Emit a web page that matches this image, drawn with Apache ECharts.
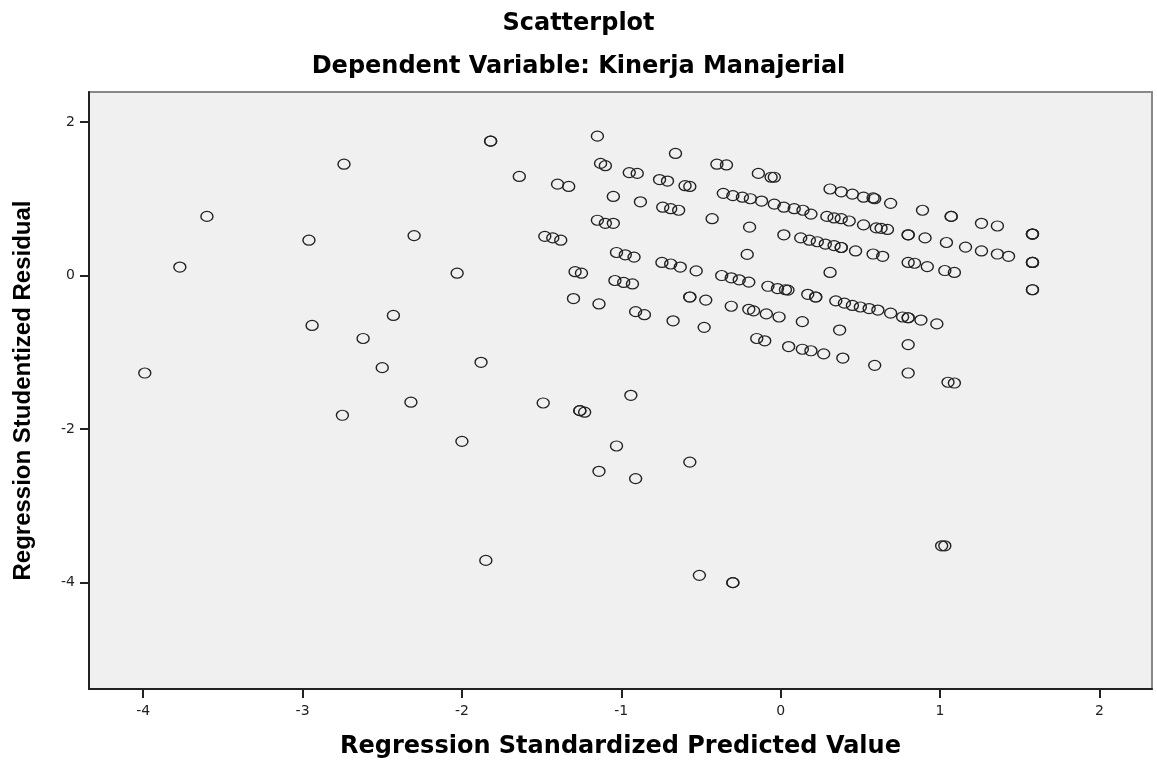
<!DOCTYPE html>
<html>
<head>
<meta charset="utf-8">
<title>Scatterplot</title>
<script src="https://cdn.jsdelivr.net/npm/echarts@6/dist/echarts.min.js"></script>
<style>
  html, body { margin: 0; padding: 0; background: #fff; }
  #chart { width: 1157px; height: 763px; }
</style>
</head>
<body>
<div id="chart"></div>
<script>
// Regression Standardized Predicted Value (x) and Regression Studentized Residual (y)
const predicted = [
  -2.74, -3.60, -2.96, -2.30, -3.77, -2.43, -2.94, -2.62, -2.50, -3.99, -2.75, -2.32,
  -1.82, -1.82, -1.15, -0.66, -1.13, -1.10, -0.95, -0.90, -0.76, -0.71, -0.60, -0.57,
  -0.40, -0.34, -0.14, -0.06, -0.04, -1.64, -1.40, -1.33, -1.05, -0.88, -0.74, -0.69, -0.64,
  -0.36, -0.30, -0.24, -0.19, -0.12, -0.04, 0.02,
  -0.43, -0.195, 0.02,
  -1.15, -1.10, -1.05, -1.48, -1.43, -1.38, -0.21,
  -1.03, -0.975, -0.92, -0.745, -0.69, -0.63, -0.53,
  -0.37, -0.31, -0.26, -0.20, -0.08, -0.02, 0.03,
  -2.03, -1.29, -1.25, -1.04, -0.985, -0.93, -1.30, -1.14,
  -0.57, -0.57, -0.47, -0.31, -0.20, -0.17, -0.09, -0.01, -0.91, -0.855, -0.675, -0.48,
  -0.15, -0.10, 0.05, -1.88,
  -1.49, -1.26, -1.26, -1.23, -0.94, -2.00, -1.03, -0.57, -1.14, -0.91, -1.85, -0.51, -0.30, -0.30,
  1.01, 1.03,
  0.31, 0.38, 0.45, 0.52, 0.58, 0.59, 0.69, 0.89, 1.07, 1.07, 1.26, 1.36,
  1.58, 1.58, 1.58, 1.58, 1.58, 1.58, 1.58, 1.58,
  0.085, 0.14, 0.19, 0.29, 0.335, 0.38, 0.43, 0.52, 0.60, 0.63, 0.67,
  0.80, 0.80, 0.906, 1.04, 1.16, 1.26, 1.36, 1.43,
  0.126, 0.18, 0.23, 0.28, 0.335, 0.38, 0.38, 0.47, 0.58, 0.64,
  0.80, 0.84, 0.92, 1.03, 1.09, 0.31,
  0.046, 0.17, 0.22, 0.22,
  0.346, 0.40, 0.45, 0.50, 0.555, 0.61, 0.69, 0.765, 0.80, 0.80, 0.88, 0.98,
  0.136, 0.37, 0.80, 0.136, 0.19, 0.27, 0.39, 0.59, 0.80, 1.05, 1.09
];
const residual = [
  1.45, 0.77, 0.46, 0.52, 0.11, -0.52, -0.65, -0.82, -1.20, -1.27, -1.82, -1.65,
  1.75, 1.75, 1.815, 1.59, 1.46, 1.43, 1.34, 1.33, 1.25, 1.23, 1.17, 1.16,
  1.45, 1.44, 1.33, 1.28, 1.28, 1.29, 1.19, 1.16, 1.03, 0.96, 0.89, 0.87, 0.85,
  1.07, 1.04, 1.02, 1.00, 0.97, 0.93, 0.89,
  0.74, 0.63, 0.53,
  0.72, 0.68, 0.68, 0.51, 0.49, 0.46, 0.275,
  0.30, 0.27, 0.24, 0.17, 0.15, 0.11, 0.06,
  0.00, -0.03, -0.056, -0.086, -0.14, -0.17, -0.185,
  0.03, 0.05, 0.03, -0.065, -0.09, -0.11, -0.30, -0.37,
  -0.28, -0.28, -0.32, -0.40, -0.44, -0.46, -0.50, -0.54, -0.47, -0.51, -0.59, -0.675,
  -0.82, -0.85, -0.925, -1.13,
  -1.66, -1.76, -1.76, -1.78, -1.56, -2.16, -2.22, -2.43, -2.55, -2.645, -3.71, -3.905, -4.00, -4.00,
  -3.52, -3.52,
  1.127, 1.09, 1.06, 1.02, 1.01, 1.00, 0.94, 0.85, 0.77, 0.77, 0.68, 0.645,
  0.54, 0.54, 0.54, 0.17, 0.17, 0.17, -0.185, -0.185,
  0.87, 0.85, 0.80, 0.77, 0.75, 0.74, 0.71, 0.66, 0.62, 0.615, 0.60,
  0.53, 0.53, 0.49, 0.43, 0.37, 0.32, 0.28, 0.25,
  0.49, 0.46, 0.44, 0.41, 0.39, 0.365, 0.365, 0.32, 0.28, 0.25,
  0.17, 0.16, 0.116, 0.065, 0.04, 0.04,
  -0.19, -0.245, -0.28, -0.28,
  -0.33, -0.36, -0.39, -0.41, -0.43, -0.45, -0.49, -0.54, -0.55, -0.55, -0.58, -0.63,
  -0.60, -0.71, -0.90, -0.96, -0.98, -1.02, -1.075, -1.17, -1.27, -1.39, -1.40
];
const xTicks = [-4, -3, -2, -1, 0, 1, 2];
const yTicks = [-4, -2, 0, 2];

const points = predicted.map((x, i) => [x, residual[i]]);
// the picture is stretched sideways, DejaVu Sans is a wide face that fits it
const wide = '"DejaVu Sans", sans-serif';
const narrow = '"Liberation Sans", Arial, sans-serif';

const myChart = echarts.init(document.getElementById('chart'));
myChart.setOption({
  animation: false,
  backgroundColor: '#fff',
  title: [
    {
      text: 'Scatterplot',
      left: 'center',
      top: 7,
      textStyle: { fontFamily: wide, fontSize: 24, fontWeight: 'bold', color: '#000' }
    },
    {
      text: 'Dependent Variable: Kinerja Manajerial',
      left: 'center',
      top: 50,
      textStyle: { fontFamily: wide, fontSize: 24, fontWeight: 'bold', color: '#000' }
    }
  ],
  grid: {
    left: 89,
    right: 5,
    top: 92,
    bottom: 74,
    outerBoundsMode: 'none',
    show: true,
    backgroundColor: '#f0f0f0',
    borderColor: '#888',
    borderWidth: 2
  },
  xAxis: {
    type: 'value',
    min: -4.34,
    max: 2.33,
    name: 'Regression Standardized Predicted Value',
    nameLocation: 'middle',
    nameGap: 46,
    nameTextStyle: { fontFamily: wide, fontSize: 24, fontWeight: 'bold', color: '#000' },
    axisLine: { onZero: false, lineStyle: { color: '#222', width: 2 } },
    axisTick: { show: true, length: 9, customValues: xTicks, lineStyle: { color: '#222', width: 2 } },
    axisLabel: { customValues: xTicks, margin: 15, fontFamily: wide, fontSize: 14, color: '#222' },
    splitLine: { show: false }
  },
  yAxis: {
    type: 'value',
    min: -5.385,
    max: 2.39,
    name: 'Regression Studentized Residual',
    nameLocation: 'middle',
    nameGap: 54,
    nameTextStyle: { fontFamily: narrow, fontSize: 24, fontWeight: 'bold', color: '#000' },
    axisLine: { onZero: false, lineStyle: { color: '#222', width: 2 } },
    axisTick: { show: true, length: 9, customValues: yTicks, lineStyle: { color: '#222', width: 2 } },
    axisLabel: { customValues: yTicks, margin: 14, fontFamily: wide, fontSize: 14, color: '#222' },
    splitLine: { show: false }
  },
  series: [{
    type: 'scatter',
    data: points,
    symbol: 'circle',
    symbolSize: [12, 10],
    itemStyle: {
      color: 'rgba(0,0,0,0)',
      borderColor: '#222',
      borderWidth: 1.3,
      opacity: 1
    },
    emphasis: { disabled: true }
  }]
});
</script>
</body>
</html>
